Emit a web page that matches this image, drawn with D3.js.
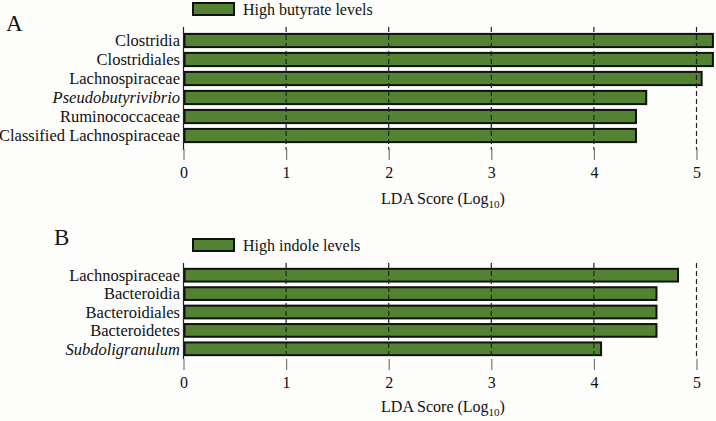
<!DOCTYPE html>
<html>
<head>
<meta charset="utf-8">
<script src="https://cdn.jsdelivr.net/npm/d3@7"></script>
<style>
  body { margin: 0; background: #fdfdfb; }
</style>
</head>
<body>
<svg id="chart" width="716" height="421"></svg>
<script>
// panel A - butyrate
const butyrateTaxa = ['Clostridia', 'Clostridiales', 'Lachnospiraceae', 'Pseudobutyrivibrio', 'Ruminococcaceae', 'Classified Lachnospiraceae']
const butyrateLda = [5.16, 5.16, 5.05, 4.51, 4.41, 4.41]
// panel B - indole
const indoleTaxa = ['Lachnospiraceae', 'Bacteroidia', 'Bacteroidiales', 'Bacteroidetes', 'Subdoligranulum']
const indoleLda = [4.82, 4.61, 4.61, 4.61, 4.07]
const italicTaxa = ['Pseudobutyrivibrio', 'Subdoligranulum']
const ldaTicks = [0, 1, 2, 3, 4, 5]

const barFill = '#538233'
const serif = '"Liberation Serif"'
const svg = d3.select('#chart')

const x = d3.scaleLinear().domain([0, 5]).range([183.5, 696.5])

function drawPanel(opts) {
  const g = svg.append('g')
  const rows = opts.taxa.map((t, i) => ({ taxon: t, value: opts.values[i] }))
  const y = d3.scaleBand()
    .domain(opts.taxa)
    .range(opts.band)
    .paddingInner(0.2)
    .paddingOuter(0.1)

  // panel letter
  g.append('text')
    .attr('x', opts.letterX)
    .attr('y', opts.letterY)
    .style('font-family', serif)
    .style('font-size', '23px')
    .attr('fill', '#111')
    .text(opts.letter)

  // legend
  g.append('rect')
    .attr('x', 193).attr('y', opts.legendY)
    .attr('width', 41).attr('height', 12)
    .attr('fill', barFill)
    .attr('stroke', '#111').attr('stroke-width', 2)
  g.append('text')
    .attr('x', 243).attr('y', opts.legendY + 12)
    .style('font-family', serif)
    .style('font-size', '16px')
    .attr('fill', '#111')
    .text(opts.legend)

  // bars
  g.append('g')
    .selectAll('rect')
    .data(rows)
    .enter()
    .append('rect')
    .attr('x', x(0) + 1)
    .attr('y', d => y(d.taxon) + 1)
    .attr('width', d => x(d.value) - x(0) - 1)
    .attr('height', y.bandwidth() - 2)
    .attr('fill', barFill)
    .attr('stroke', '#111')
    .attr('stroke-width', 2)

  // zero line and dashed grid, drawn over the bars
  g.append('line')
    .attr('x1', x(0)).attr('x2', x(0))
    .attr('y1', opts.gridTop).attr('y2', opts.gridBottom)
    .attr('stroke', '#222').attr('stroke-width', 1.2)
  g.append('g')
    .selectAll('line')
    .data(ldaTicks.slice(1))
    .enter()
    .append('line')
    .attr('x1', d => x(d)).attr('x2', d => x(d))
    .attr('y1', opts.gridTop).attr('y2', opts.gridBottom)
    .attr('stroke', '#222')
    .attr('stroke-width', 1.2)
    .attr('stroke-dasharray', '5,3')

  // category labels
  g.append('g')
    .selectAll('text')
    .data(rows)
    .enter()
    .append('text')
    .attr('x', 180)
    .attr('y', d => y(d.taxon) + y.bandwidth() / 2)
    .attr('dy', '0.35em')
    .attr('text-anchor', 'end')
    .style('font-family', serif)
    .style('font-size', '16.5px')
    .style('font-style', d => italicTaxa.includes(d.taxon) ? 'italic' : 'normal')
    .attr('fill', '#111')
    .text(d => d.taxon)

  // bottom axis
  const axis = g.append('g')
    .attr('transform', `translate(0,${opts.axisY})`)
    .call(d3.axisBottom(x).tickValues(ldaTicks).tickSize(11).tickPadding(7).tickFormat(d3.format('d')))
  axis.select('.domain').remove()
  axis.selectAll('.tick line').attr('stroke', '#777').attr('stroke-width', 1.2)
  axis.selectAll('.tick text')
    .style('font-family', serif)
    .style('font-size', '16px')
    .attr('fill', '#111')

  const title = g.append('text')
    .attr('x', 443)
    .attr('y', opts.titleY)
    .attr('text-anchor', 'middle')
    .style('font-family', serif)
    .style('font-size', '16px')
    .attr('fill', '#111')
  title.append('tspan').text('LDA Score (Log')
  title.append('tspan').style('font-size', '11px').attr('dy', 4).text('10')
  title.append('tspan').attr('dy', -4).text(')')
}

drawPanel({
  taxa: butyrateTaxa, values: butyrateLda, letter: 'A', letterX: 6, letterY: 31,
  legend: 'High butyrate levels', legendY: 3,
  band: [31, 145], gridTop: 27, gridBottom: 150, axisY: 149, titleY: 204
})

drawPanel({
  taxa: indoleTaxa, values: indoleLda, letter: 'B', letterX: 54, letterY: 245,
  legend: 'High indole levels', legendY: 239,
  band: [266, 358], gridTop: 263, gridBottom: 359, axisY: 359, titleY: 412
})
</script>
</body>
</html>
